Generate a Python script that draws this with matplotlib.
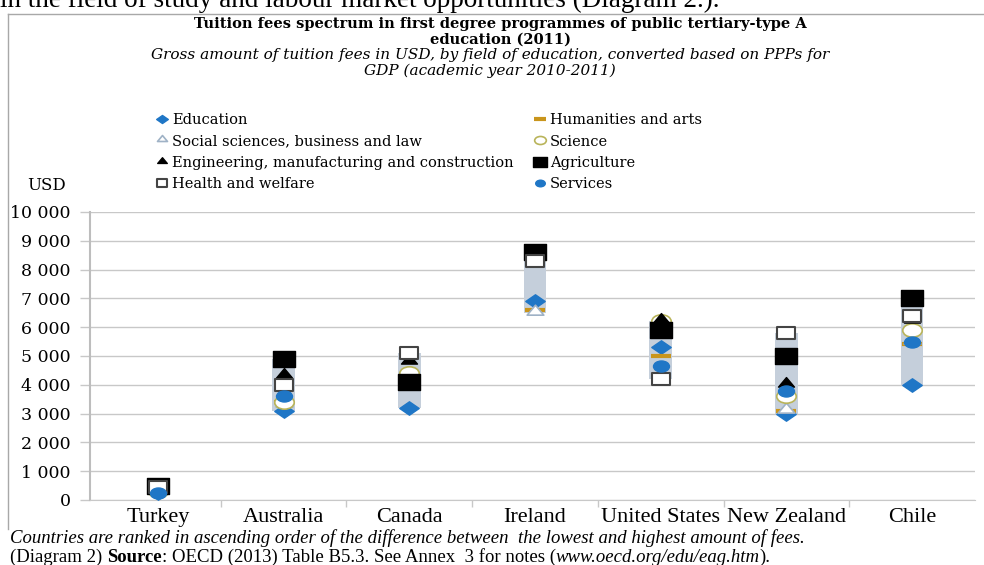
import numpy as np
import matplotlib
matplotlib.use("Agg")
import matplotlib.pyplot as plt
from matplotlib.path import Path
from matplotlib.transforms import Affine2D
from matplotlib.lines import Line2D

W, H = 984, 565

countries = ["Turkey", "Australia", "Canada", "Ireland", "United States", "New Zealand", "Chile"]
nan = np.nan
education = [250, 3100, 3200, 6900, 5300, 3000, 4000]
humanities = [300, 3400, 4100, 6600, 5000, 3100, 5400]
social = [300, 3300, 4100, 6500, 5900, 3100, 5500]
science = [300, 3400, 4400, 8400, 6200, 3600, 5900]
engineering = [350, 4300, 4800, 8500, 6200, 4000, 6200]
agriculture = [500, 4900, 4100, 8600, 5900, 5000, 7000]
health = [450, 4000, 5100, 8300, 4200, 5800, 6400]
services = [250, 3600, nan, nan, 4650, 3800, 5500]

yticks = list(range(0, 10001, 1000))
ytick_labels = ["0"] + [f"{v // 1000} 000" for v in yticks[1:]]

BLUE = "#1f76c6"
BAND = "#c5cfdb"
GRID = "#c8c8c8"
SERIF = "DejaVu Serif"
TIMES = "Liberation Serif"


def px(x, y):
    # figure pixel position -> figure fraction
    return x / W, 1 - y / H


# markers are a bit wider than tall in the original
sx = 1.45
stretch = Affine2D().scale(sx, 1)
sq = Path.unit_rectangle().transformed(Affine2D().translate(-0.5, -0.5) + stretch)
dia = Path.unit_regular_polygon(4).transformed(stretch)
tri = Path.unit_regular_polygon(3).transformed(Affine2D().translate(0, 0.25) + stretch)
circ = Path.unit_circle().transformed(stretch)

series = [
    ("Education", education, dict(marker=dia, ms=14, mfc=BLUE, mec=BLUE)),
    ("Humanities and arts", humanities, dict(marker="_", ms=14, mew=3, color="#c9951c")),
    ("Social sciences, business and law", social, dict(marker=tri, ms=12, mfc="white", mec="#9fb2c6", mew=1.2)),
    ("Science", science, dict(marker=circ, ms=14, mfc="white", mec="#b9b45a", mew=1.2)),
    ("Engineering, manufacturing and construction", engineering, dict(marker=tri, ms=11.5, mfc="black", mec="black")),
    ("Agriculture", agriculture, dict(marker=sq, ms=16, mfc="black", mec="black")),
    ("Health and welfare", health, dict(marker=sq, ms=13, mfc="white", mec="#444444", mew=1.5)),
    ("Services", services, dict(marker=circ, ms=11.5, mfc=BLUE, mec=BLUE)),
]

fig = plt.figure(figsize=(W / 100, H / 100), dpi=100)
ax = fig.add_axes([90 / W, 1 - 500 / H, (975 - 90) / W, (500 - 212) / H])

x = np.arange(len(countries))
allv = np.array([s[1] for s in series], dtype=float)
lo = np.nanmin(allv, axis=0)
hi = np.nanmax(allv, axis=0)
ax.bar(x, hi - lo, bottom=lo, width=0.18, color=BAND, zorder=1.5)

handles = []
for name, vals, style in series:
    ln, = ax.plot(x, vals, linestyle="none", zorder=3, label=name, **style)
    handles.append(ln)

ax.set_xlim(-0.54, 6.5)
ax.set_ylim(0, 10000)
ax.set_yticks(yticks)
ax.set_yticklabels(ytick_labels, family=SERIF, fontsize=12.5)
ax.yaxis.grid(True, color=GRID, lw=1)
ax.set_axisbelow(True)
ax.tick_params(axis="y", length=7, color=GRID, pad=7, width=1)

ax.set_xticks(x)
ax.set_xticklabels(countries, family=TIMES, fontsize=16)
ax.set_xticks(np.arange(0.5, 6.5, 1), minor=True)
ax.tick_params(axis="x", which="major", length=0, pad=6)
ax.tick_params(axis="x", which="minor", length=5, color=GRID, width=1)

for side in ["top", "right"]:
    ax.spines[side].set_visible(False)
ax.spines["left"].set_color("#bdbdbd")
ax.spines["left"].set_linewidth(1.5)
ax.spines["bottom"].set_color(GRID)

# legend in two columns, placed separately
legend_font = dict(family=SERIF, size=10.5)
order = [[0, 2, 4, 6], [1, 3, 5, 7]]
for col, x0 in zip(order, [150, 528]):
    fig.legend([handles[i] for i in col], [series[i][0] for i in col],
               loc="upper left", bbox_to_anchor=px(x0, 106), frameon=False,
               prop=legend_font, markerscale=0.6, handlelength=0.7,
               handletextpad=0.3, labelspacing=0.5, borderpad=0)

fig.text(*px(47, 185), "USD", family=SERIF, fontsize=12, ha="center", va="center")

# text above the chart (cut by the top edge)
fig.text(*px(0, 7), "in the field of study and labour market opportunities (Diagram 2.).",
         family=TIMES, fontsize=19.5, ha="left", va="baseline")
fig.text(*px(500, 24), "Tuition fees spectrum in first degree programmes of public tertiary-type A",
         family=SERIF, weight="bold", fontsize=10.5, ha="center", va="center")
fig.text(*px(500, 40), "education (2011)",
         family=SERIF, weight="bold", fontsize=10.5, ha="center", va="center")
fig.text(*px(490, 55), "Gross amount of tuition fees in USD, by field of education, converted based on PPPs for",
         family=SERIF, style="italic", fontsize=11, ha="center", va="center")
fig.text(*px(490, 71), "GDP (academic year 2010-2011)",
         family=SERIF, style="italic", fontsize=11, ha="center", va="center")

# frame around the figure
fig.add_artist(Line2D([8 / W, 8 / W], [1 - 14 / H, 1 - 529 / H], color="#a8a8a8", lw=1, transform=fig.transFigure))
fig.add_artist(Line2D([8 / W, 1], [1 - 14 / H, 1 - 14 / H], color="#a8a8a8", lw=1, transform=fig.transFigure))

# notes below
fig.text(*px(10, 538), "Countries are ranked in ascending order of the difference between  the lowest and highest amount of fees.",
         family=TIMES, style="italic", fontsize=13.5, ha="left", va="center")

renderer = fig.canvas.get_renderer()
pieces = [("(Diagram 2) ", {}), ("Source", {"weight": "bold"}),
          (": OECD (2013) Table B5.3. See Annex  3 for notes (", {}),
          ("www.oecd.org/edu/eag.htm", {"style": "italic"}), (").", {})]
xpos = 10
for s, kw in pieces:
    t = fig.text(*px(xpos, 557), s, family=TIMES, fontsize=13.5, ha="left", va="center", **kw)
    bb = t.get_window_extent(renderer)
    xpos += bb.width

fig.savefig("out.png", dpi=100)
